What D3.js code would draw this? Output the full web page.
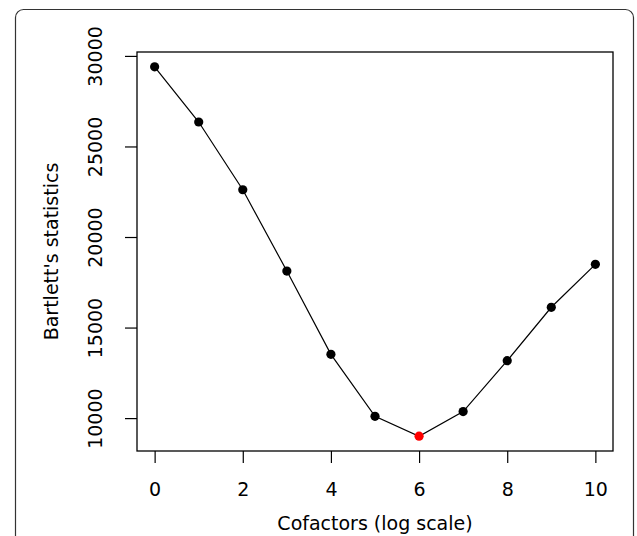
<!DOCTYPE html>
<html>
<head>
<meta charset="utf-8">
<script src="https://cdn.jsdelivr.net/npm/d3@7"></script>
<style>
  body { margin: 0; background: #fff; }
  text { font-family: "DejaVu Sans", sans-serif; fill: #000; }
</style>
</head>
<body>
<script>
var svgWidth = 637;
var svgHeight = 536;

// data
var cofactors = [0, 1, 2, 3, 4, 5, 6, 7, 8, 9, 10];
var bartlett = [29400, 26350, 22610, 18120, 13520, 10100, 9000, 10360, 13170, 16120, 18490];
var xTicks = [0, 2, 4, 6, 8, 10];
var yTicks = [10000, 15000, 20000, 25000, 30000];
var bestIndex = 6;

var margin = { top: 52, right: 24, bottom: 85, left: 137 };
var width = svgWidth - margin.left - margin.right;
var height = svgHeight - margin.top - margin.bottom;

var svg = d3.select("body")
  .append("svg")
  .attr("width", svgWidth)
  .attr("height", svgHeight);

// outer rounded frame
svg.append("rect")
  .attr("x", 15.5)
  .attr("y", 9.5)
  .attr("width", 618)
  .attr("height", 560)
  .attr("rx", 8)
  .attr("fill", "none")
  .attr("stroke", "#333")
  .attr("stroke-width", 1.2);

var chartGroup = svg.append("g")
  .attr("transform", `translate(${margin.left}, ${margin.top})`);

// R style 4% padding on both axes
var xExt = d3.extent(cofactors);
var xPad = (xExt[1] - xExt[0]) * 0.04;
var xScale = d3.scaleLinear()
  .domain([xExt[0] - xPad, xExt[1] + xPad])
  .range([0, width]);

var yExt = d3.extent(bartlett);
var yPad = (yExt[1] - yExt[0]) * 0.04;
var yScale = d3.scaleLinear()
  .domain([yExt[0] - yPad, yExt[1] + yPad])
  .range([height, 0]);

// box
chartGroup.append("rect")
  .attr("width", width)
  .attr("height", height)
  .attr("fill", "none")
  .attr("stroke", "#000")
  .attr("stroke-width", 1.3);

var bottomAxis = d3.axisBottom(xScale)
  .tickValues(xTicks)
  .tickSize(12)
  .tickPadding(20)
  .tickFormat(d3.format("d"));

var leftAxis = d3.axisLeft(yScale)
  .tickValues(yTicks)
  .tickSize(12)
  .tickFormat(d3.format("d"));

var xAxisG = chartGroup.append("g")
  .attr("transform", "translate(0, " + height + ")")
  .call(bottomAxis);
xAxisG.select(".domain").remove();
xAxisG.selectAll("line").attr("stroke", "#000").attr("stroke-width", 1.2);
xAxisG.selectAll("text").attr("font-size", 19).attr("font-family", "DejaVu Sans");

var yAxisG = chartGroup.append("g")
  .call(leftAxis);
yAxisG.select(".domain").remove();
yAxisG.selectAll("line").attr("stroke", "#000").attr("stroke-width", 1.2);
// rotated tick labels like R's las=0
yAxisG.selectAll("text")
  .attr("font-size", 19)
  .attr("font-family", "DejaVu Sans")
  .attr("x", null)
  .attr("dy", null)
  .attr("text-anchor", "middle")
  .attr("transform", "translate(-35, 0) rotate(-90)");

// line through the points
var drawLine = d3.line()
  .x((d, i) => xScale(cofactors[i]))
  .y(d => yScale(d));

chartGroup.append("path")
  .attr("d", drawLine(bartlett))
  .attr("fill", "none")
  .attr("stroke", "#000")
  .attr("stroke-width", 1.2);

chartGroup.selectAll("circle")
  .data(bartlett)
  .enter()
  .append("circle")
  .attr("cx", (d, i) => xScale(cofactors[i]))
  .attr("cy", d => yScale(d))
  .attr("r", 4.6)
  .attr("fill", (d, i) => i === bestIndex ? "#ff0000" : "#000");

// axis titles
svg.append("text")
  .attr("x", margin.left + width / 2)
  .attr("y", 530)
  .attr("text-anchor", "middle")
  .attr("font-size", 19)
  .text("Cofactors (log scale)");

svg.append("text")
  .attr("transform", `translate(58, ${margin.top + height / 2}) rotate(-90)`)
  .attr("text-anchor", "middle")
  .attr("font-size", 19)
  .text("Bartlett's statistics");
</script>
</body>
</html>
